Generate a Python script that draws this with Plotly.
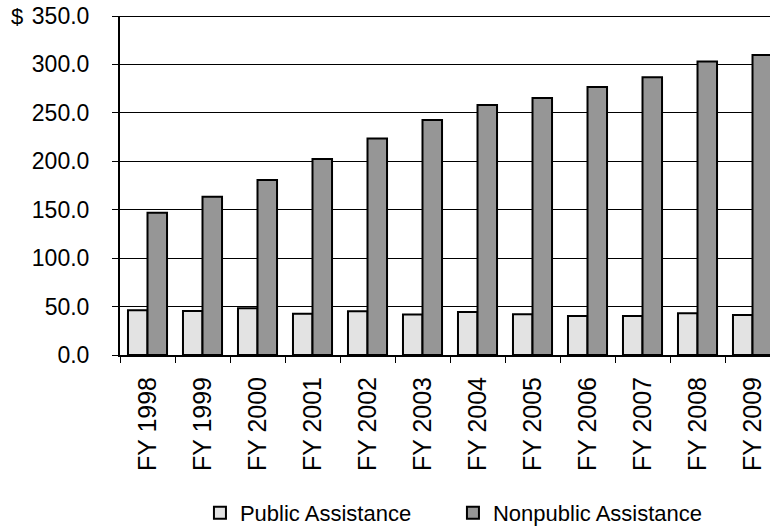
import plotly.graph_objects as go

categories = ["FY 1998", "FY 1999", "FY 2000", "FY 2001", "FY 2002", "FY 2003",
              "FY 2004", "FY 2005", "FY 2006", "FY 2007", "FY 2008", "FY 2009"]
public_assistance = [46.1, 45.5, 48.2, 42.7, 45.1, 41.7, 44.5, 42.0, 40.3, 40.3, 43.0, 41.4]
nonpublic_assistance = [146.8, 163.4, 180.6, 202.3, 223.4, 242.6, 258.1, 265.4, 276.7, 286.8, 302.9, 309.8]
y_ticks = [0, 50, 100, 150, 200, 250, 300, 350]

FONT = "Liberation Sans, Arial, sans-serif"

fig = go.Figure()
fig.add_trace(go.Bar(
    x=categories, y=public_assistance, name="Public Assistance",
    marker=dict(color="#E3E3E3", line=dict(color="black", width=2)),
))
fig.add_trace(go.Bar(
    x=categories, y=nonpublic_assistance, name="Nonpublic Assistance",
    marker=dict(color="#969696", line=dict(color="black", width=2)),
))

fig.update_layout(
    width=770, height=527,
    margin=dict(l=120, r=0, t=16, b=172, autoexpand=False),
    paper_bgcolor="white", plot_bgcolor="white",
    barmode="group", bargap=0.29, bargroupgap=0,
    font=dict(family=FONT, size=22, color="black"),
    showlegend=True,
    legend=dict(orientation="h", x=0.123, xanchor="left", y=-0.466, yanchor="middle",
                font=dict(size=22), bgcolor="rgba(0,0,0,0)", itemwidth=30,
                entrywidth=208, tracegroupgap=0),
    xaxis=dict(
        type="category", range=[-0.5, 11.318], automargin=False,
        showline=True, linecolor="black", linewidth=2,
        ticks="outside", tickson="boundaries", ticklen=6, tickcolor="black", tickwidth=1,
        tickangle=-90, ticklabelstandoff=10, ticklabeloverflow="allow",
        showgrid=False, zeroline=False,
        tickfont=dict(size=25),
    ),
    yaxis=dict(
        range=[0, 350], tickvals=y_ticks, tickformat=".1f", automargin=False,
        showline=True, linecolor="black", linewidth=2,
        ticks="outside", ticklen=6, tickcolor="black", tickwidth=1,
        ticklabelstandoff=18, ticklabeloverflow="allow",
        showgrid=True, gridcolor="black", gridwidth=1, zeroline=False,
        tickfont=dict(size=23),
    ),
)

fig.add_shape(type="line", xref="paper", yref="y", x0=0, x1=1, y0=350, y1=350,
              line=dict(color="black", width=2))
fig.add_annotation(text="$", xref="paper", yref="y", x=-0.158, y=350,
                   xanchor="center", yanchor="middle", showarrow=False,
                   font=dict(size=22, family=FONT, color="black"))

fig.write_html("out.html", config={"displayModeBar": False},
               post_script="document.body.style.margin='0';document.body.style.overflow='hidden';")
